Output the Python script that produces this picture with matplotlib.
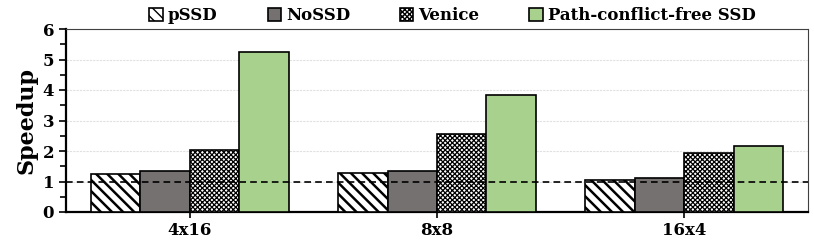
import matplotlib
matplotlib.use('Agg')
import matplotlib.pyplot as plt
import numpy as np

categories = ['4x16', '8x8', '16x4']
series = ['pSSD', 'NoSSD', 'Venice', 'Path-conflict-free SSD']
pssd = [1.23, 1.28, 1.06]
nossd = [1.34, 1.34, 1.11]
venice = [2.03, 2.57, 1.93]
pcf = [5.24, 3.84, 2.16]

plt.rcParams['font.family'] = ['DejaVu Serif']
plt.rcParams['font.weight'] = 'bold'

fig = plt.figure(figsize=(8.14, 2.44), dpi=100)
ax = fig.add_axes([66 / 814, 32 / 244, 742 / 814, 183 / 244])

x = np.arange(len(categories))
w = 0.2
styles = [
    (dict(facecolor='white', hatch='\\\\\\'), 1.8),
    (dict(facecolor='#767171'), 1.0),
    (dict(facecolor='white', hatch='xxxxxxx'), 0.9),
    (dict(facecolor='#A9D18E'), 1.0),
]
for i, (name, vals) in enumerate(zip(series, [pssd, nossd, venice, pcf])):
    st, hlw = styles[i]
    plt.rcParams['hatch.linewidth'] = hlw
    ax.bar(x + (i - 1.5) * w, vals, w, label=name, edgecolor='black',
           linewidth=1.2, zorder=3, **st)

ax.axhline(1, color='black', linestyle=(0, (4, 2.5)), linewidth=1.2, zorder=4)

ax.set_xlim(-0.5, 2.5)
ax.set_ylim(0, 6)
ax.set_yticks(range(7))
ax.set_yticks(np.arange(0, 6.01, 0.5), minor=True)
ax.set_xticks(x)
ax.set_xticklabels(categories, fontsize=12, fontweight='bold')
ax.tick_params(axis='y', labelsize=12, width=1.2, length=5, direction='out')
ax.tick_params(axis='y', which='minor', width=1.2, length=4)
ax.tick_params(axis='x', width=1.2, length=4, pad=3)
for lbl in ax.get_yticklabels():
    lbl.set_fontweight('bold')
ax.grid(axis='y', color='#e0e0e0', linestyle=(0, (2, 1)), linewidth=0.8, zorder=0)
ax.set_ylabel('Speedup', fontsize=16, fontweight='bold', labelpad=4)

ax.spines['left'].set_linewidth(1.6)
ax.spines['bottom'].set_linewidth(1.6)
ax.spines['top'].set_linewidth(0.8)
ax.spines['right'].set_linewidth(0.8)
ax.spines['top'].set_color('#404040')
ax.spines['right'].set_color('#404040')

ax.legend(loc='lower center', bbox_to_anchor=(0.521, 0.98), ncol=4, frameon=False,
          handlelength=0.8, handleheight=0.8, handletextpad=0.3,
          columnspacing=3.0, borderaxespad=0.1,
          prop={'weight': 'bold', 'size': 12})

fig.savefig('out.png', dpi=100)
